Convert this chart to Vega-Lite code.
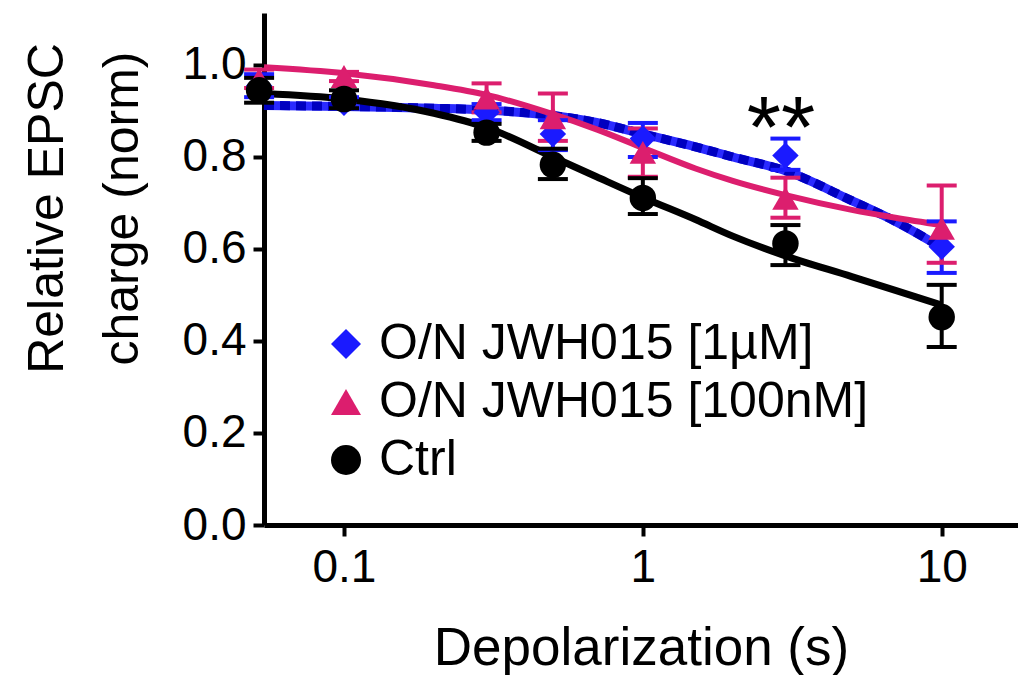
{
  "$schema": "https://vega.github.io/schema/vega-lite/v6.json",
  "width": 754,
  "height": 512,
  "autosize": {"type": "none"},
  "padding": {"left": 264, "top": 13, "right": 0, "bottom": 150},
  "background": "white",
  "config": {
    "view": {"stroke": null},
    "font": "Liberation Sans",
    "legend": {
      "title": null,
      "labelFontSize": 50,
      "labelFont": "Liberation Sans",
      "labelColor": "#000000",
      "labelLimit": 0,
      "symbolSize": 900,
      "symbolStrokeWidth": 0,
      "symbolOpacity": 1,
      "rowPadding": 8,
      "labelOffset": 8,
      "padding": 0
    }
  },
  "datasets": {
    "points": [
      {"series": "O/N JWH015 [1µM]", "x": 0.052, "y": 0.955, "lo": 0.93, "hi": 0.98},
      {"series": "O/N JWH015 [1µM]", "x": 0.1, "y": 0.918, "lo": 0.905, "hi": 0.93},
      {"series": "O/N JWH015 [1µM]", "x": 0.3, "y": 0.897, "lo": 0.88, "hi": 0.915},
      {"series": "O/N JWH015 [1µM]", "x": 0.5, "y": 0.85, "lo": 0.815, "hi": 0.88},
      {"series": "O/N JWH015 [1µM]", "x": 1, "y": 0.84, "lo": 0.8, "hi": 0.874},
      {"series": "O/N JWH015 [1µM]", "x": 3, "y": 0.803, "lo": 0.772, "hi": 0.84},
      {"series": "O/N JWH015 [1µM]", "x": 10, "y": 0.605, "lo": 0.548, "hi": 0.66},
      {"series": "O/N JWH015 [100nM]", "x": 0.052, "y": 0.968, "lo": 0.95, "hi": 0.99},
      {"series": "O/N JWH015 [100nM]", "x": 0.1, "y": 0.975, "lo": 0.965, "hi": 0.985},
      {"series": "O/N JWH015 [100nM]", "x": 0.3, "y": 0.928, "lo": 0.897, "hi": 0.96},
      {"series": "O/N JWH015 [100nM]", "x": 0.5, "y": 0.885, "lo": 0.835, "hi": 0.938},
      {"series": "O/N JWH015 [100nM]", "x": 1, "y": 0.81, "lo": 0.757, "hi": 0.862},
      {"series": "O/N JWH015 [100nM]", "x": 3, "y": 0.71, "lo": 0.668, "hi": 0.755},
      {"series": "O/N JWH015 [100nM]", "x": 10, "y": 0.645, "lo": 0.57, "hi": 0.738},
      {"series": "Ctrl", "x": 0.052, "y": 0.945, "lo": 0.918, "hi": 0.972},
      {"series": "Ctrl", "x": 0.1, "y": 0.926, "lo": 0.906, "hi": 0.945},
      {"series": "Ctrl", "x": 0.3, "y": 0.853, "lo": 0.835, "hi": 0.872},
      {"series": "Ctrl", "x": 0.5, "y": 0.783, "lo": 0.752, "hi": 0.818},
      {"series": "Ctrl", "x": 1, "y": 0.711, "lo": 0.676, "hi": 0.754},
      {"series": "Ctrl", "x": 3, "y": 0.612, "lo": 0.565, "hi": 0.652},
      {"series": "Ctrl", "x": 10, "y": 0.452, "lo": 0.387, "hi": 0.522}
    ],
    "curves": [
      {"series": "O/N JWH015 [1µM]", "x": 0.054, "y": 0.912},
      {"series": "O/N JWH015 [1µM]", "x": 0.1, "y": 0.91},
      {"series": "O/N JWH015 [1µM]", "x": 0.2, "y": 0.906},
      {"series": "O/N JWH015 [1µM]", "x": 0.3, "y": 0.902},
      {"series": "O/N JWH015 [1µM]", "x": 0.5, "y": 0.89},
      {"series": "O/N JWH015 [1µM]", "x": 0.7, "y": 0.875},
      {"series": "O/N JWH015 [1µM]", "x": 1, "y": 0.85},
      {"series": "O/N JWH015 [1µM]", "x": 1.5, "y": 0.822},
      {"series": "O/N JWH015 [1µM]", "x": 2, "y": 0.8},
      {"series": "O/N JWH015 [1µM]", "x": 3, "y": 0.77},
      {"series": "O/N JWH015 [1µM]", "x": 5, "y": 0.705},
      {"series": "O/N JWH015 [1µM]", "x": 7, "y": 0.66},
      {"series": "O/N JWH015 [1µM]", "x": 10, "y": 0.603},
      {"series": "O/N JWH015 [100nM]", "x": 0.054, "y": 0.995},
      {"series": "O/N JWH015 [100nM]", "x": 0.1, "y": 0.982},
      {"series": "O/N JWH015 [100nM]", "x": 0.2, "y": 0.956},
      {"series": "O/N JWH015 [100nM]", "x": 0.3, "y": 0.935},
      {"series": "O/N JWH015 [100nM]", "x": 0.5, "y": 0.893},
      {"series": "O/N JWH015 [100nM]", "x": 0.7, "y": 0.86},
      {"series": "O/N JWH015 [100nM]", "x": 1, "y": 0.82},
      {"series": "O/N JWH015 [100nM]", "x": 1.5, "y": 0.775},
      {"series": "O/N JWH015 [100nM]", "x": 2, "y": 0.748},
      {"series": "O/N JWH015 [100nM]", "x": 3, "y": 0.717},
      {"series": "O/N JWH015 [100nM]", "x": 5, "y": 0.685},
      {"series": "O/N JWH015 [100nM]", "x": 7, "y": 0.668},
      {"series": "O/N JWH015 [100nM]", "x": 10, "y": 0.652},
      {"series": "Ctrl", "x": 0.054, "y": 0.938},
      {"series": "Ctrl", "x": 0.1, "y": 0.926},
      {"series": "Ctrl", "x": 0.2, "y": 0.895},
      {"series": "Ctrl", "x": 0.3, "y": 0.864},
      {"series": "Ctrl", "x": 0.5, "y": 0.8},
      {"series": "Ctrl", "x": 0.7, "y": 0.757},
      {"series": "Ctrl", "x": 1, "y": 0.712},
      {"series": "Ctrl", "x": 1.5, "y": 0.664},
      {"series": "Ctrl", "x": 2, "y": 0.628},
      {"series": "Ctrl", "x": 3, "y": 0.585},
      {"series": "Ctrl", "x": 5, "y": 0.54},
      {"series": "Ctrl", "x": 7, "y": 0.51},
      {"series": "Ctrl", "x": 10, "y": 0.478}
    ],
    "notes": [
      {"x": 2.9, "y": 0.8, "label": "**"}
    ]
  },
  "encoding": {
    "x": {
      "field": "x",
      "type": "quantitative",
      "scale": {"type": "log", "domain": [0.054, 18], "nice": false},
      "axis": {
        "values": [0.1, 1, 10],
        "format": "~g",
        "grid": false,
        "labelFontSize": 46,
        "labelFont": "Liberation Sans",
        "labelColor": "#000000",
        "labelPadding": 9,
        "labelFlush": false,
        "labelOverlap": false,
        "domainColor": "#000000",
        "domainWidth": 5,
        "tickColor": "#000000",
        "tickWidth": 4,
        "tickSize": 11,
        "title": "Depolarization (s)",
        "titleFontSize": 53,
        "titleFontWeight": "normal",
        "titleFont": "Liberation Sans",
        "titleColor": "#000000",
        "titleBaseline": "alphabetic",
        "titleY": 139
      }
    },
    "y": {
      "field": "y",
      "type": "quantitative",
      "scale": {"domain": [0, 1.113], "nice": false, "zero": false},
      "axis": {
        "values": [0, 0.2, 0.4, 0.6, 0.8, 1.0],
        "format": ".1f",
        "grid": false,
        "labelFontSize": 46,
        "labelFont": "Liberation Sans",
        "labelColor": "#000000",
        "labelPadding": 7,
        "labelFlush": false,
        "labelOverlap": false,
        "domainColor": "#000000",
        "domainWidth": 5,
        "tickColor": "#000000",
        "tickWidth": 4,
        "tickSize": 11,
        "title": ["Relative EPSC", "charge (norm)"],
        "titleFontSize": 50,
        "titleFontWeight": "normal",
        "titleFont": "Liberation Sans",
        "titleColor": "#000000",
        "titleAngle": -90,
        "titleAlign": "center",
        "titleBaseline": "alphabetic",
        "titleLineHeight": 75,
        "titleX": -202,
        "titleY": 195
      }
    }
  },
  "layer": [
    {
      "data": {"name": "curves"},
      "transform": [{"filter": "datum.series === 'O/N JWH015 [1µM]'"}],
      "mark": {"type": "line", "color": "#2a2aff", "strokeWidth": 9, "interpolate": "monotone"},
      "encoding": {}
    },
    {
      "data": {"name": "curves"},
      "transform": [{"filter": "datum.series === 'O/N JWH015 [1µM]'"}],
      "mark": {"type": "line", "color": "#0000c0", "strokeWidth": 9, "strokeDash": [10, 6], "interpolate": "monotone"},
      "encoding": {}
    },
    {
      "data": {"name": "curves"},
      "transform": [{"filter": "datum.series === 'O/N JWH015 [100nM]'"}],
      "mark": {"type": "line", "color": "#dc1e6e", "strokeWidth": 6, "interpolate": "monotone"},
      "encoding": {}
    },
    {
      "data": {"name": "curves"},
      "transform": [{"filter": "datum.series === 'Ctrl'"}],
      "mark": {"type": "line", "color": "#000000", "strokeWidth": 7, "interpolate": "monotone"},
      "encoding": {}
    },
    {
      "data": {"name": "points"},
      "mark": {"type": "rule", "strokeWidth": 4, "opacity": 1},
      "encoding": {
        "y": {"field": "lo", "type": "quantitative"},
        "y2": {"field": "hi"},
        "color": {"field": "series", "type": "nominal"}
      }
    },
    {
      "data": {"name": "points"},
      "mark": {"type": "tick", "orient": "horizontal", "size": 30, "thickness": 4, "opacity": 1},
      "encoding": {
        "y": {"field": "lo", "type": "quantitative"},
        "color": {"field": "series", "type": "nominal"}
      }
    },
    {
      "data": {"name": "points"},
      "mark": {"type": "tick", "orient": "horizontal", "size": 30, "thickness": 4, "opacity": 1},
      "encoding": {
        "y": {"field": "hi", "type": "quantitative"},
        "color": {"field": "series", "type": "nominal"}
      }
    },
    {
      "data": {"name": "points"},
      "mark": {"type": "point", "filled": true, "size": 700, "opacity": 1},
      "encoding": {
        "color": {
          "field": "series",
          "type": "nominal",
          "scale": {
            "domain": ["O/N JWH015 [1µM]", "O/N JWH015 [100nM]", "Ctrl"],
            "range": ["#1a1aff", "#dc1e6e", "#000000"]
          },
          "legend": {"orient": "none", "legendX": 57, "legendY": 306, "title": null, "symbolSize": 900}
        },
        "shape": {
          "field": "series",
          "type": "nominal",
          "scale": {
            "domain": ["O/N JWH015 [1µM]", "O/N JWH015 [100nM]", "Ctrl"],
            "range": ["diamond", "triangle-up", "circle"]
          },
          "legend": {"orient": "none", "legendX": 57, "legendY": 306, "title": null, "symbolSize": 900}
        }
      }
    },
    {
      "data": {"name": "notes"},
      "mark": {"type": "text", "fontSize": 88, "font": "Liberation Sans", "color": "#000000", "baseline": "alphabetic", "align": "center"},
      "encoding": {
        "text": {"field": "label"}
      }
    }
  ]
}
